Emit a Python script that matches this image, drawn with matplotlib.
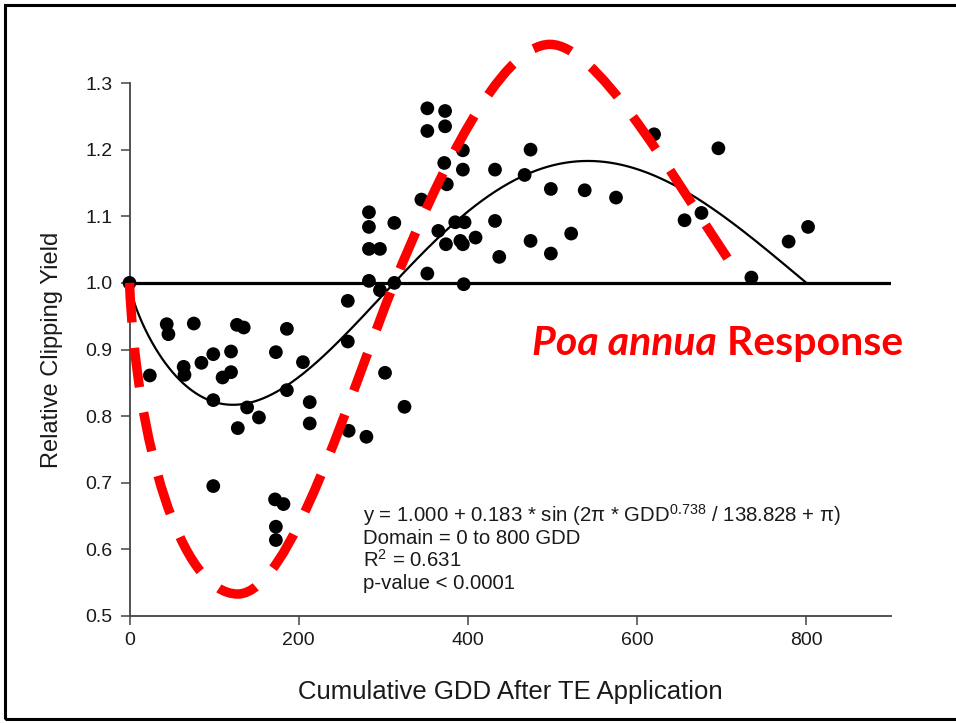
import numpy as np
import matplotlib
matplotlib.use("Agg")
import matplotlib.pyplot as plt
from matplotlib.path import Path
from matplotlib.patches import PathPatch, Rectangle

# ---------------- data ----------------
gdd = [0, 24, 44, 46, 76, 64, 65, 85, 99, 120, 127, 135, 186, 173, 205, 110,
       120, 99, 139, 153, 128, 186, 213, 213, 99, 172, 182, 173, 173, 258,
       258, 302, 325, 259, 280, 283, 283, 313, 283, 296, 283, 296, 313, 345,
       352, 352, 373, 352, 373, 394, 372, 394, 375, 365, 385, 396, 374, 391,
       394, 409, 395, 432, 474, 467, 498, 538, 575, 620, 696, 432, 474, 522,
       437, 498, 656, 676, 779, 802, 735]
rel_yield = [1.000, 0.861, 0.938, 0.923, 0.939, 0.874, 0.862, 0.880, 0.893,
             0.897, 0.937, 0.933, 0.931, 0.896, 0.881, 0.858, 0.866, 0.824,
             0.813, 0.798, 0.782, 0.839, 0.821, 0.789, 0.695, 0.675, 0.668,
             0.634, 0.614, 0.973, 0.912, 0.865, 0.814, 0.778, 0.769, 1.106,
             1.084, 1.090, 1.051, 1.051, 1.003, 0.989, 1.000, 1.125, 1.014,
             1.262, 1.258, 1.228, 1.235, 1.199, 1.180, 1.170, 1.148, 1.078,
             1.091, 1.091, 1.058, 1.063, 1.058, 1.068, 0.998, 1.170, 1.200,
             1.162, 1.141, 1.139, 1.128, 1.223, 1.202, 1.093, 1.063, 1.074,
             1.039, 1.044, 1.094, 1.105, 1.062, 1.084, 1.008]

# fitted model printed on the chart
fit_intercept = 1.000
fit_amplitude = 0.183
fit_exponent = 0.738
fit_period = 138.828
fit_domain = (0, 800)

# hand-drawn "Poa annua response" curve: cubic Bezier nodes (GDD, yield)
red_curve_nodes = [(0, 1.000),
                   (8, 0.763), (60, 0.533), (128, 0.533),
                   (190, 0.533), (260, 0.833), (313, 1.000),
                   (364, 1.159), (438, 1.358), (497, 1.358),
                   (551, 1.358), (632, 1.180), (713, 1.025)]

x_ticks = [0, 200, 400, 600, 800]
y_ticks = [0.5, 0.6, 0.7, 0.8, 0.9, 1.0, 1.1, 1.2, 1.3]

equation_lines = ["y = 1.000 + 0.183 * sin (2\u03c0 * GDD$^{0.738}$ / 138.828 + \u03c0)",
                  "Domain = 0 to 800 GDD",
                  "R$^{2}$ = 0.631",
                  "p-value < 0.0001"]

# ---------------- style ----------------
plt.rcParams["font.family"] = ["Liberation Sans", "DejaVu Sans"]
plt.rcParams["mathtext.fontset"] = "custom"
plt.rcParams["mathtext.rm"] = "Liberation Sans"
plt.rcParams["mathtext.it"] = "Liberation Sans:italic"
plt.rcParams["mathtext.bf"] = "Liberation Sans:bold"

W, H = 956, 723
fig = plt.figure(figsize=(W / 100, H / 100), dpi=100)
fig.patch.set_facecolor("white")

ax = fig.add_axes([129.5 / W, 1 - 616 / H, (891 - 129.5) / W, (616 - 83) / H])
ax.set_xlim(0, 900)
ax.set_ylim(0.5, 1.3)

for s in ["top", "right"]:
    ax.spines[s].set_visible(False)
for s in ["left", "bottom"]:
    ax.spines[s].set_color("#444444")
    ax.spines[s].set_linewidth(1.3)

ax.set_xticks(x_ticks)
ax.set_yticks(y_ticks)
ax.set_yticklabels([f"{v:.1f}" for v in y_ticks])
ax.tick_params(direction="out", length=6.5, width=1.1, color="#444444",
               labelsize=14, labelcolor="#1a1a1a", pad=6)
ax.tick_params(axis="x", pad=5)

ax.set_xlabel("Cumulative GDD After TE Application", fontsize=18.5,
              color="#1a1a1a", labelpad=22)
ax.set_ylabel("Relative Clipping Yield", fontsize=17, color="#1a1a1a",
              labelpad=16)

# reference line at 1.0
ax.axhline(1.0, color="black", lw=2.3, zorder=2)

# fitted curve
xf = np.linspace(fit_domain[0], fit_domain[1], 600)
yf = fit_intercept + fit_amplitude * np.sin(2 * np.pi * xf ** fit_exponent / fit_period + np.pi)
ax.plot(xf, yf, color="black", lw=1.6, zorder=3)

# observations
ax.scatter(gdd, rel_yield, s=98, color="black", edgecolors="none", zorder=4,
           clip_on=False)

# red dashed response curve
codes = [Path.MOVETO] + [Path.CURVE4] * (len(red_curve_nodes) - 1)
red_path = Path(red_curve_nodes, codes)
ax.add_patch(PathPatch(red_path, fill=False, edgecolor="#ff0000", lw=6.8,
                       linestyle=(0, (4.2, 2.7)), capstyle="butt", zorder=5,
                       clip_on=False))

# annotation texts
ybase = [522, 544.5, 567, 589]
for line, yb in zip(equation_lines, ybase):
    fig.text(363 / W, 1 - yb / H, line, fontsize=14.7, color="#1a1a1a",
             va="baseline", ha="left")

t1 = fig.text(532 / W, 1 - 355 / H, "Poa annua", fontsize=29.5, color="#ff0000",
              fontweight="bold", fontstyle="italic", family=["Lato", "DejaVu Sans"],
              va="baseline", ha="left")
ax.annotate(" Response", xy=(1, 0), xycoords=t1, fontsize=29.5, color="#ff0000",
            fontweight="bold", family=["Lato", "DejaVu Sans"], va="bottom",
            ha="left", annotation_clip=False)

# slide frame
fig.patches.append(Rectangle((5 / W, 4 / H), 1.2, 1 - 9 / H, transform=fig.transFigure,
                             fill=False, edgecolor="black", lw=2.2, clip_on=False))

fig.savefig("out.png", dpi=100, facecolor="white")
